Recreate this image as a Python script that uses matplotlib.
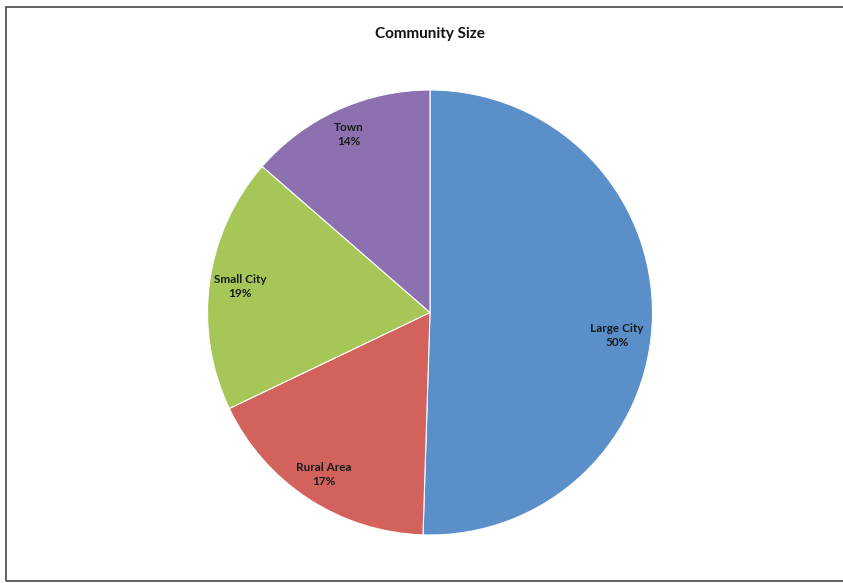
import numpy as np
import matplotlib.pyplot as plt
from matplotlib.patches import Rectangle

# community size shares, clockwise from top
categories = ['Large City', 'Rural Area', 'Small City', 'Town']
shares = [50.5, 17.4, 18.5, 13.6]
pct_labels = ['50%', '17%', '19%', '14%']
colors = ['#5B8FCA', '#D2625B', '#A6C757', '#8C70AF']

plt.rcParams['font.family'] = ['Lato', 'DejaVu Sans']

fig = plt.figure(figsize=(8.43, 5.83), dpi=100)
fig.patch.set_facecolor('white')

# outer frame of the exported chart
fig.patches.append(Rectangle((6/843, 2/583), 840/843, 574/583, transform=fig.transFigure,
                             fill=False, edgecolor='#555555', linewidth=1.3))

ax = fig.add_axes([(430-222.5)/843, (583-535)/583, 445/843, 445/583])
wedges, _ = ax.pie(shares, colors=colors, startangle=90, counterclock=False,
                   wedgeprops=dict(edgecolor='white', linewidth=0.8))
ax.set_aspect('equal')
ax.set_xlim(-1, 1)
ax.set_ylim(-1, 1)

label_r = [0.84, 0.87, 0.86, 0.88]
for w, name, pct, r in zip(wedges, categories, pct_labels, label_r):
    mid = np.deg2rad((w.theta1 + w.theta2) / 2)
    x, y = r * np.cos(mid), r * np.sin(mid)
    if name == 'Large City':
        y -= 0.09
    ax.text(x, y, name + '\n' + pct, ha='center', va='center', fontsize=8.5,
            fontweight='bold', color='#1a1a1a', linespacing=1.3)

fig.text(430/843, 1 - 34/583, 'Community Size', ha='center', va='center',
         fontsize=11, fontweight='bold', color='#111111')

fig.savefig('out.png', dpi=100)
